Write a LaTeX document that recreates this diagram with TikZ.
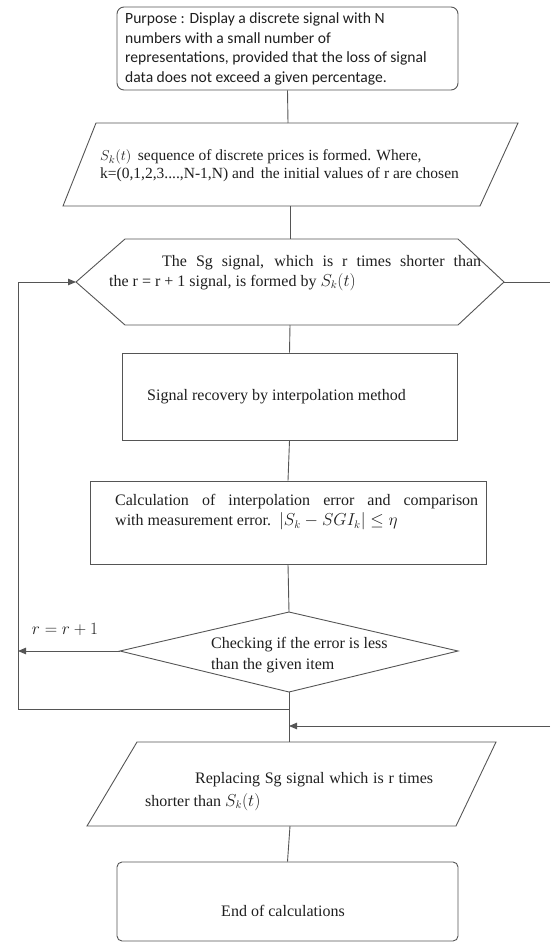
\documentclass[tikz,border=0pt]{standalone}
\usepackage{fontspec}
\setmainfont{Liberation Serif}
\newfontfamily\calibrifont{Carlito}
\usetikzlibrary{arrows.meta}
\definecolor{linegray}{HTML}{555555}
\definecolor{textc}{HTML}{1E1E1E}
\tikzset{
  shp/.style={draw=linegray, line width=0.9pt, line join=miter},
  box/.style={draw=linegray, line width=0.9pt, inner sep=0pt},
  conn/.style={draw=linegray, line width=0.9pt},
  arr/.style={conn, -{Triangle[length=8pt,width=6.5pt]}},
  txt/.style={inner sep=0pt, text=textc, font=\fontsize{16}{20}\selectfont},
  sanstxt/.style={inner sep=0pt, text=textc, align=left, font=\calibrifont\fontsize{15.6}{19.5}\selectfont},
}
\begin{document}
\begin{tikzpicture}[x=1pt,y=-1pt]
\useasboundingbox (0,0) rectangle (550,944);

% Purpose box
\node[box, rounded corners=7pt, minimum width=341pt, minimum height=83pt] (purpose) at (287.5,48.5) {};
\node[sanstxt, anchor=west] (purposetxt) at (125,49) {Purpose : Display a discrete signal with N\\numbers with a small number of\\representations, provided that the loss of signal\\data does not exceed a given percentage.};

% Parallelogram 1
\draw[shp] (96,123) -- (518,123) -- (480,206) -- (63,206) -- cycle;
\coordinate (p1top) at (288,123);
\coordinate (p1bot) at (290,206);
\node[txt, anchor=west, align=left, font=\fontsize{15.5}{18}\selectfont] (p1txt) at (100,166) {$S_k(t)$\, sequence of discrete prices is formed. Where,\\k=(0,1,2,3....,N-1,N) and\, the initial values of r are chosen};

% Hexagon
\draw[shp] (76,282) -- (125,239) -- (458,239) -- (504,282) -- (458,325) -- (125,325) -- cycle;
\coordinate (hextop) at (290,239);
\coordinate (hexbot) at (290,325);
\coordinate (hexleft) at (76,282);
\coordinate (hexright) at (504,282);
\node[txt, anchor=west, text width=372pt, align=justify] (hextxt) at (109,273) {\hspace*{53pt}The Sg signal, which is r times shorter than\linebreak the r = r + 1 signal, is formed by $S_k(t)$};

% Signal recovery box
\node[box, minimum width=335pt, minimum height=87pt] (sig) at (289.5,396.5) {};
\node[txt, anchor=west] (sigtxt) at (147,397) {Signal recovery by interpolation method};

% Calculation box
\node[box, minimum width=396pt, minimum height=83pt] (calc) at (288,522.5) {};
\node[txt, anchor=west, text width=363pt, align=justify] (calctxt) at (115,512.5) {Calculation of interpolation error and comparison\linebreak with measurement error.\, $|S_k - SGI_k| \le \eta$};

% Diamond
\draw[shp] (289,612) -- (458,651) -- (289,692) -- (120,651) -- cycle;
\coordinate (dtop) at (289,612);
\coordinate (dbot) at (289,692);
\coordinate (dleft) at (120,651);
\node[txt, anchor=west, align=left, font=\fontsize{16}{21}\selectfont] (dtxt) at (211,655.5) {Checking if the error is less\\than the given item};

% Loop coordinates
\coordinate (loopmid) at (18,651);
\coordinate (loopbot) at (18,709);
\coordinate (looptop) at (18,282);
\coordinate (join) at (289,709);
\coordinate (merge) at (289,726);
\coordinate (rightA) at (550,282);
\coordinate (rightB) at (550,726);
\node[txt, anchor=center] (rlabel) at (65,629) {$r = r + 1$};

% Parallelogram 2
\draw[shp] (137,742) -- (496,742) -- (456,826) -- (87,826) -- cycle;
\coordinate (p2top) at (289,742);
\coordinate (p2bot) at (290,826);
\node[txt, anchor=west, text width=288pt, align=justify, font=\fontsize{16}{23}\selectfont] (p2txt) at (145,791.5) {\hspace*{50pt}Replacing Sg signal which is r times\linebreak shorter than $S_k(t)$};

% End box
\node[box, rounded corners=5pt, minimum width=341pt, minimum height=79pt] (endbox) at (287.5,901.5) {};
\node[txt, anchor=center] (endtxt) at (283,911) {End of calculations};

% Connectors
\draw[conn] (purpose.south) -- (p1top);
\draw[conn] (p1bot) -- (hextop);
\draw[conn] (hexbot) -- (sig.north);
\draw[conn] (sig.south) -- (calc.north);
\draw[conn] (calc.south) -- (dtop);
\draw[arr] (dleft) -- (loopmid);
\draw[arr] (join) -- (loopbot) -- (looptop) -- (hexleft);
\draw[conn] (dbot) -- (p2top);
\draw[conn] (hexright) -- (rightA);
\draw[arr] (rightB) -- (merge);
\draw[conn] (p2bot) -- (endbox.north);
\end{tikzpicture}
\end{document}
